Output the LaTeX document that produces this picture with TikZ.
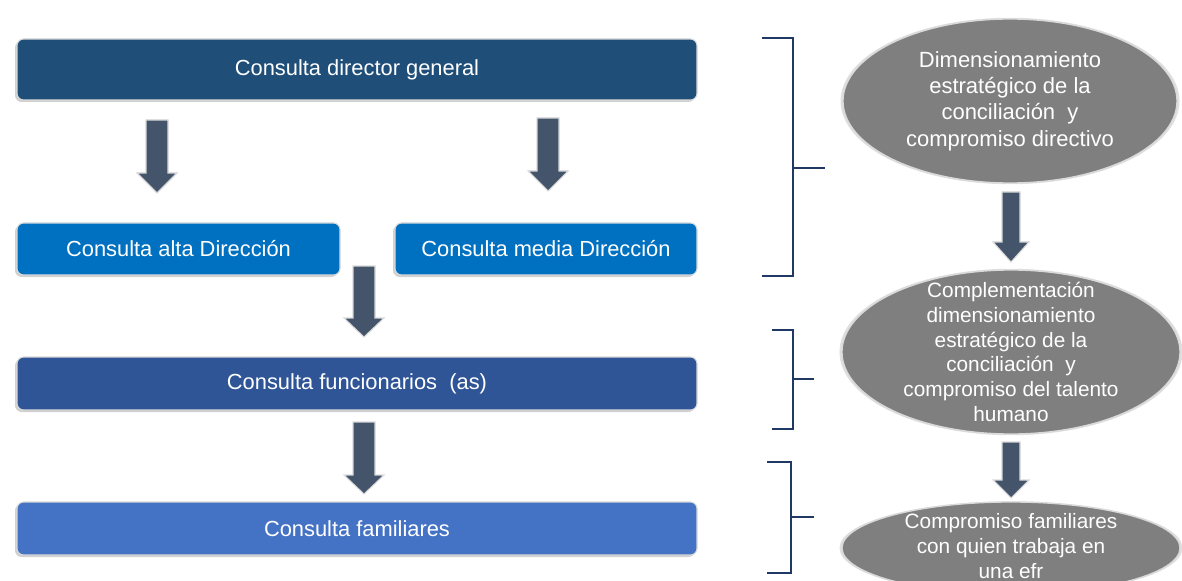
\documentclass[tikz,border=0pt]{standalone}
\usepackage{fontspec}
\setmainfont{Liberation Sans}
\usetikzlibrary{shapes.geometric,shadows}
\definecolor{cDir}{HTML}{1F4E79}
\definecolor{cAlta}{HTML}{0070C0}
\definecolor{cFun}{HTML}{2F5597}
\definecolor{cFam}{HTML}{4472C4}
\definecolor{cEll}{HTML}{7F7F7F}
\definecolor{cArr}{HTML}{44546A}
\definecolor{cBrk}{HTML}{203864}
\tikzset{
  boxnode/.style={rounded corners=5pt, draw=white!85!black, line width=0.8pt, text=white,
    font=\fontsize{16.4pt}{19pt}\selectfont, inner sep=0pt,
    general shadow={fill=black!30, shadow xshift=-1.5pt, shadow yshift=-1.5pt, opacity=0.6}},
  ellnode/.style={ellipse, fill=cEll, draw=white!85!black, line width=1pt, inner sep=0pt,
    general shadow={fill=black!20, shadow scale=1.015, opacity=0.6}},
  elltext/.style={text=white, align=center, inner sep=0pt},
  blockarrow/.style={fill=cArr, draw=white!85!black, line width=0.8pt, line join=miter},
  bracketline/.style={draw=cBrk, line width=1pt},
}
% block arrow: center x, top y, head start y, tip y, shaft half, head half
\newcommand\mydownarrow[6]{%
  \path[blockarrow] (#1-#5,#2) -- (#1+#5,#2) -- (#1+#5,#3) -- (#1+#6,#3) -- (#1,#4)
    -- (#1-#6,#3) -- (#1-#5,#3) -- cycle;}
\begin{document}
\begin{tikzpicture}[x=0.75pt,y=-0.75pt]
\useasboundingbox (0,0) rectangle (1182,581);
% left boxes
\node[boxnode, fill=cDir, minimum width=510pt, minimum height=45.75pt] (dir) at (357,69.5) {Consulta director general};
\node[boxnode, fill=cAlta, minimum width=242.25pt, minimum height=39pt] (alta) at (178.5,249) {Consulta alta Dirección};
\node[boxnode, fill=cAlta, minimum width=226.5pt, minimum height=39pt] (media) at (546,249) {Consulta media Dirección};
\node[boxnode, fill=cFun, minimum width=510pt, minimum height=39.75pt] (fun) at (357,383.5) {Consulta funcionarios\ \ (as)};
\node[boxnode, fill=cFam, minimum width=510pt, minimum height=39.75pt] (fam) at (357,528.5) {Consulta familiares};
% left arrows
\mydownarrow{157}{120}{173}{193}{11}{20}
\mydownarrow{548}{118}{171}{191}{11}{20}
\mydownarrow{364}{266}{318}{337}{11}{20}
\mydownarrow{364}{422}{475}{494}{11}{20}
% right ellipses
\node[ellnode, minimum width=250.5pt, minimum height=123pt] (e1) at (1010,101) {};
\node[elltext, font=\fontsize{16.5pt}{19.7pt}\selectfont] at (1010,101) {Dimensionamiento\\estratégico de la\\conciliación\ \ y\\compromiso directivo};
\node[ellnode, minimum width=253.5pt, minimum height=123pt] (e2) at (1011,352) {};
\node[elltext, font=\fontsize{15.6pt}{18.6pt}\selectfont] at (e2.center) {Complementación\\dimensionamiento\\estratégico de la\\conciliación\ \ y\\compromiso del talento\\humano};
\node[ellnode, minimum width=253.5pt, minimum height=69pt] (e3) at (1011,548) {};
\node[elltext, font=\fontsize{15.6pt}{18.75pt}\selectfont] at (1011,546) {Compromiso familiares\\con quien trabaja en\\una efr};
% right arrows
\mydownarrow{1011}{192}{242}{262}{9}{18}
\mydownarrow{1011}{442}{480}{498}{9}{18}
% brackets
\coordinate (b1t) at (762,38); \coordinate (b1b) at (762,276); \coordinate (b1m) at (825,168);
\draw[bracketline] (b1t) -- (793,38) -- (793,276) -- (b1b);
\draw[bracketline] (793,168) -- (b1m);
\coordinate (b2t) at (772,330); \coordinate (b2b) at (772,429); \coordinate (b2m) at (814,379);
\draw[bracketline] (b2t) -- (793,330) -- (793,429) -- (b2b);
\draw[bracketline] (793,379) -- (b2m);
\coordinate (b3t) at (767,462); \coordinate (b3b) at (767,573); \coordinate (b3m) at (814,517);
\draw[bracketline] (b3t) -- (791,462) -- (791,573) -- (b3b);
\draw[bracketline] (791,517) -- (b3m);
\end{tikzpicture}
\end{document}
